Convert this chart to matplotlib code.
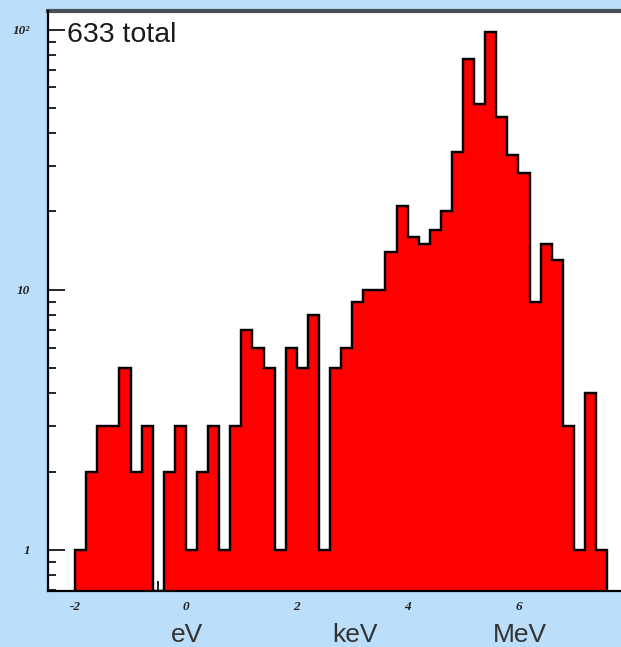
import numpy as np
import matplotlib
matplotlib.use("Agg")
import matplotlib.pyplot as plt
from matplotlib.ticker import FixedLocator, FixedFormatter

# Histogram bins: 48 bins of width 0.2 starting at -2
bin_start = -2.0
bin_width = 0.2
counts = [1, 2, 3, 3, 5, 2, 3, 0, 2, 3,
          1, 2, 3, 1, 3, 7, 6, 5, 1, 6,
          5, 8, 1, 5, 6, 9, 10, 10, 14, 21,
          16, 15, 17, 20, 34, 77, 52, 98, 46, 33,
          28, 9, 15, 13, 3, 1, 4, 1]
total_label = "633 total"

x_ticks = [-2, 0, 2, 4, 6]
x_tick_labels = ["-2", "0", "2", "4", "6"]
y_ticks = [1, 10, 100]
y_tick_labels = ["1", "10", "10\u00b2"]
unit_labels = ["eV", "keV", "MeV"]
unit_pos = [0.02, 3.05, 6.03]

bg = "#bbdefb"
W, H = 621, 647

fig = plt.figure(figsize=(W / 100, H / 100), dpi=100, facecolor=bg)
# axes: left edge at x=48 px, bottom at y=591 px, top at y=11 px, runs off the right edge
ax = fig.add_axes([48 / W, (H - 591) / H, (W - 48) / W, (591 - 11) / H])
ax.set_facecolor("white")

edges = bin_start + bin_width * np.arange(len(counts) + 1)
vals = np.array(counts, dtype=float)
ymin, ymax = 0.695, 118
ax.set_yscale("log")
ax.set_xlim(-2.49, 7.85)
ax.set_ylim(ymin, ymax)

vals_draw = np.where(vals > 0, vals, ymin)
ax.stairs(vals_draw, edges, baseline=ymin, fill=True, facecolor="#ff0000",
          edgecolor="black", linewidth=1.6, zorder=2)
# outline on top of the fill
ax.stairs(vals_draw, edges, baseline=ymin, fill=False, color="black",
          linewidth=1.6, zorder=3)

# frame
for s in ["left", "bottom"]:
    ax.spines[s].set_linewidth(1.6)
    ax.spines[s].set_color("black")
    ax.spines[s].set_zorder(4)
ax.spines["top"].set_linewidth(3)
ax.spines["top"].set_color("#4a5058")
ax.spines["right"].set_visible(False)

# ticks: ROOT style, pointing inward
tick_font = dict(family="Liberation Serif", style="italic", weight="bold", size=9.5)
ax.xaxis.set_major_locator(FixedLocator(x_ticks))
ax.xaxis.set_major_formatter(FixedFormatter(x_tick_labels))
ax.xaxis.set_minor_locator(FixedLocator(np.arange(-2.0, 8.0, 0.5)))
ax.tick_params(axis="x", which="major", direction="in", length=14, width=1.2, pad=7)
ax.tick_params(axis="x", which="minor", direction="in", length=7, width=1.2)

ax.yaxis.set_major_locator(FixedLocator(y_ticks))
ax.yaxis.set_major_formatter(FixedFormatter(y_tick_labels))
minor_y = [m * d for d in (0.1, 1, 10) for m in range(2, 10)]
ax.yaxis.set_minor_locator(FixedLocator(minor_y))
ax.yaxis.set_minor_formatter(FixedFormatter([""] * len(minor_y)))
ax.tick_params(axis="y", which="major", direction="in", length=12, width=1.2, pad=13)
ax.tick_params(axis="y", which="minor", direction="in", length=6, width=1.2)
ax.tick_params(top=False, right=False, which="both")
for lab in ax.get_xticklabels() + ax.get_yticklabels():
    lab.set_fontproperties(tick_font)
    lab.set_color("#222222")

ax.text(0.034, 0.958, total_label, transform=ax.transAxes, ha="left", va="center",
        fontsize=20.5, family="Liberation Sans", color="#1a1a1a", zorder=5)

# unit labels under the axis
for lab, xv in zip(unit_labels, unit_pos):
    px = 48 + (xv + 2.49) / (7.85 + 2.49) * (W - 48)
    fig.text(px / W, (H - 635) / H, lab, ha="center", va="center",
             fontsize=19, family="Liberation Sans", color="#333333")

fig.savefig("out.png", dpi=100, facecolor=bg)
